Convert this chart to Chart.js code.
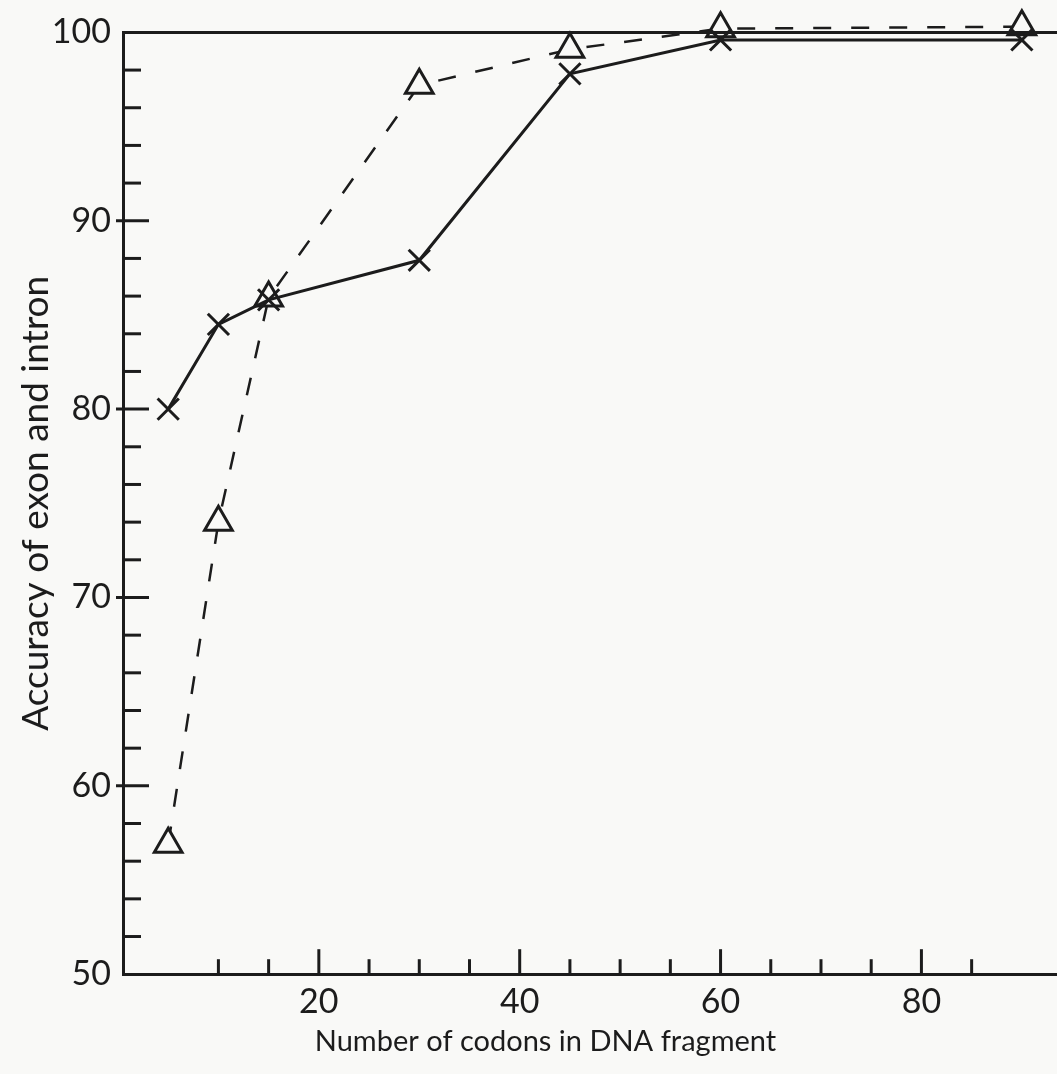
<!DOCTYPE html>
<html>
<head>
<meta charset="utf-8">
<title>Accuracy of exon and intron</title>
<script src="https://cdn.jsdelivr.net/npm/chart.js@4.4.1/dist/chart.umd.min.js"></script>
<style>
  html, body { margin: 0; padding: 0; background: #f9f9f7; overflow: hidden; }
  #wrap { width: 1057px; height: 1074px; position: relative; }
  canvas { display: block; }
</style>
</head>
<body>
<div id="wrap"><canvas id="myChart"></canvas></div>
<script>
// values
const codons = [5, 10, 15, 30, 45, 60, 90];
const accuracyCross = [80.0, 84.5, 85.8, 87.9, 97.8, 99.6, 99.6];      // X marks, solid line
const accuracyTriangle = [56.9, 74.0, 85.9, 97.2, 99.1, 100.2, 100.3]; // triangles, dashed line

const xLabels = [20, 40, 60, 80];
const yLabels = [50, 60, 70, 80, 90, 100];

const ink = '#1c1c1c';
const paper = '#f9f9f7';
const fontFamily = "Lato, 'Noto Sans', 'DejaVu Sans', sans-serif";
const padLeft = 34; // pushes the bottom title centre to the right, like the scan

// ticks in the original point into the plot, so draw them ourselves
const inwardTicks = {
  id: 'inwardTicks',
  afterDraw(chart) {
    const ctx = chart.ctx;
    const area = chart.chartArea;
    const xs = chart.scales.x;
    const ys = chart.scales.y;
    ctx.save();
    ctx.strokeStyle = ink;
    ctx.lineWidth = 3;
    ctx.lineCap = 'butt';

    // top frame line
    ctx.beginPath();
    ctx.moveTo(area.left, area.top);
    ctx.lineTo(chart.width, area.top);
    ctx.stroke();

    xs.ticks.forEach(t => {
      if (t.value % 5 !== 0 || t.value <= 0) return;
      const px = xs.getPixelForValue(t.value);
      const len = xLabels.includes(t.value) ? 25 : 15;
      ctx.beginPath();
      ctx.moveTo(px, area.bottom);
      ctx.lineTo(px, area.bottom - len);
      ctx.stroke();
    });

    ys.ticks.forEach(t => {
      if (t.value <= ys.min || t.value >= ys.max) return;
      const py = ys.getPixelForValue(t.value);
      const major = yLabels.includes(t.value);
      ctx.beginPath();
      ctx.moveTo(area.left - (major ? 7 : 0), py);
      ctx.lineTo(area.left + (major ? 26 : 18), py);
      ctx.stroke();
    });
    ctx.restore();
  }
};

const ctx = document.getElementById('myChart').getContext('2d');
const myChart = new Chart(ctx, {
  type: 'line',
  data: {
    datasets: [
      {
        label: 'X',
        data: codons.map((c, i) => ({x: c, y: accuracyCross[i]})),
        borderColor: ink,
        borderWidth: 3,
        pointStyle: 'crossRot',
        pointRadius: 15,
        pointBorderWidth: 3,
        pointBorderColor: ink,
        pointBackgroundColor: ink,
        tension: 0,
        clip: false
      },
      {
        label: 'triangle',
        data: codons.map((c, i) => ({x: c, y: accuracyTriangle[i]})),
        borderColor: ink,
        borderWidth: 2.5,
        borderDash: [18, 20],
        pointStyle: 'triangle',
        pointRadius: 16,
        pointBorderWidth: 3,
        pointBorderColor: ink,
        pointBackgroundColor: paper,
        tension: 0,
        clip: false
      }
    ]
  },
  options: {
    responsive: true,
    maintainAspectRatio: false,
    animation: false,
    layout: { autoPadding: false, padding: { top: 32, left: padLeft, right: 0, bottom: 0 } },
    plugins: {
      legend: { display: false },
      tooltip: { enabled: false },
      title: {
        display: true,
        position: 'bottom',
        text: 'Number of codons in DNA fragment',
        color: ink,
        font: { family: fontFamily, size: 29, weight: 'normal' },
        padding: { top: 0, bottom: 15 }
      }
    },
    scales: {
      x: {
        type: 'linear',
        min: 0.5,
        max: 93.5,
        grid: { display: false, drawTicks: false },
        border: { display: true, color: ink, width: 3 },
        ticks: {
          stepSize: 5,
          autoSkip: false,
          maxRotation: 0,
          padding: 7,
          color: ink,
          font: { family: fontFamily, size: 34 },
          callback: v => xLabels.includes(v) ? String(v) : ''
        },
        afterFit(scale) {
          scale.height = 50;
          scale.paddingRight = 0;
        }
      },
      y: {
        min: 50,
        max: 100,
        grid: { display: false, drawTicks: false },
        border: { display: true, color: ink, width: 3 },
        ticks: {
          stepSize: 2,
          autoSkip: false,
          padding: 12,
          color: ink,
          font: { family: fontFamily, size: 34 },
          callback: v => yLabels.includes(v) ? String(v) : ''
        },
        title: {
          display: true,
          text: 'Accuracy of exon and intron',
          color: ink,
          font: { family: fontFamily, size: 37, weight: 'normal' },
          padding: { top: 14 - padLeft, bottom: 0 }
        },
        afterFit(scale) { scale.width = 123 - padLeft; }
      }
    }
  },
  plugins: [inwardTicks]
});
</script>
</body>
</html>
